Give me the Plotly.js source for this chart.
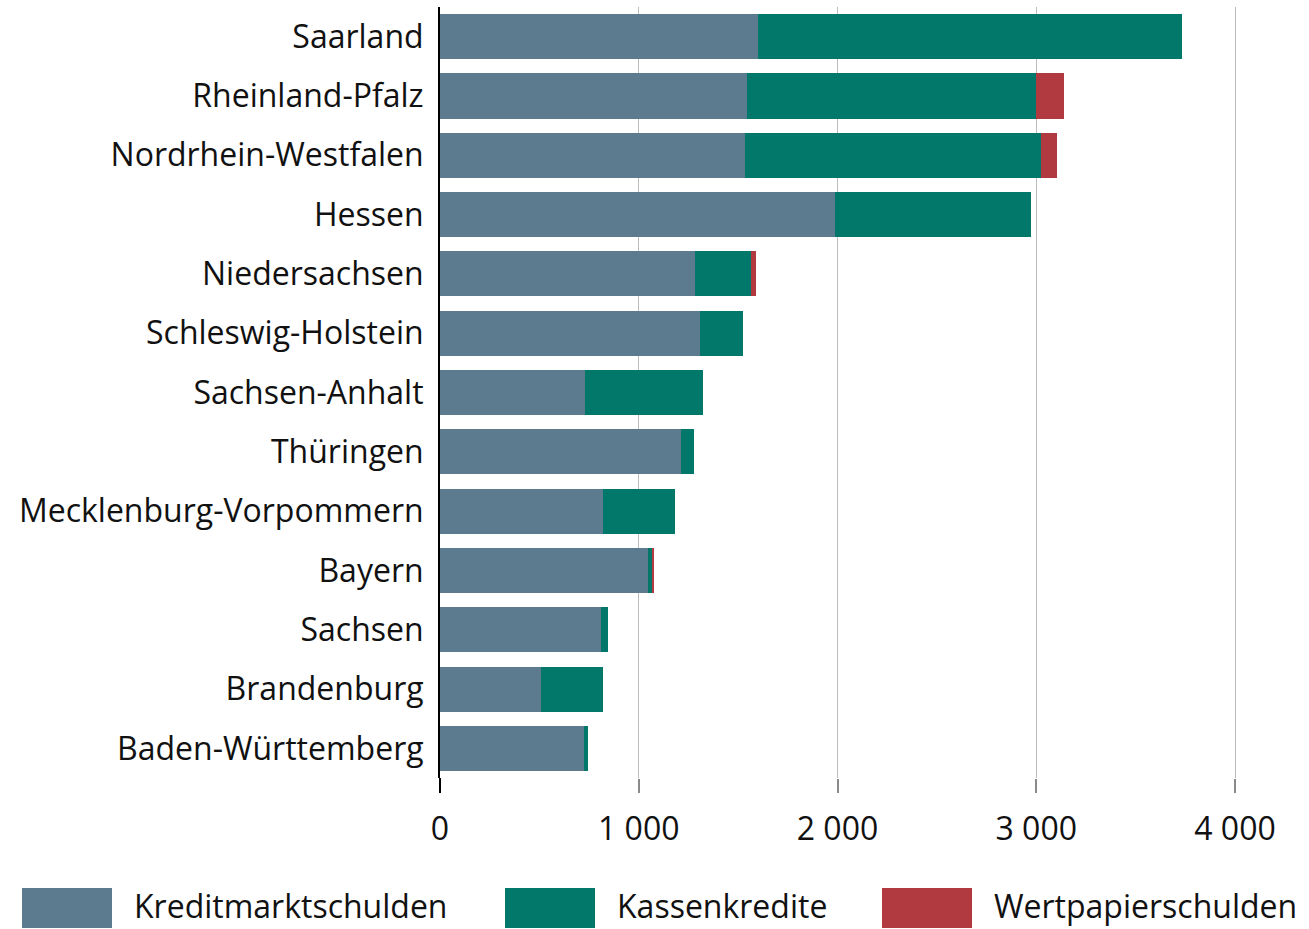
<!DOCTYPE html>
<html>
<head>
<meta charset="utf-8">
<script src="https://cdn.plot.ly/plotly-3.0.1.min.js"></script>
<style>html,body{margin:0;padding:0;background:#fff;}#chart{width:1309px;height:929px;}</style>
</head>
<body>
<div id="chart"></div>
<script>
const categories = ["Saarland","Rheinland-Pfalz","Nordrhein-Westfalen","Hessen","Niedersachsen","Schleswig-Holstein","Sachsen-Anhalt","Thüringen","Mecklenburg-Vorpommern","Bayern","Sachsen","Brandenburg","Baden-Württemberg"];
const kreditmarktschulden = [1600,1545,1535,1988,1283,1308,730,1213,820,1047,810,508,725];
const kassenkredite = [2135,1455,1490,985,282,217,594,65,363,18,35,312,20];
const wertpapierschulden = [0,140,80,0,25,0,0,0,0,12,0,0,0];
const seriesNames = ["Kreditmarktschulden","Kassenkredite","Wertpapierschulden"];
const seriesColors = ["#5d7b8f","#02786a","#b03a40"];
const xTicks = [0,1000,2000,3000,4000];

const W = 1309, H = 929;
const M = {l:440, r:9, t:7, b:151};
const pw = W - M.l - M.r, ph = H - M.t - M.b;
const px2x = p => (p - M.l) / pw;
const px2y = p => (H - M.b - p) / ph;

const font = "'Open Sans', 'Noto Sans', sans-serif";
const FS = 32;
const vals = [kreditmarktschulden, kassenkredite, wertpapierschulden];
const traces = vals.map((v,i) => ({
  type:'bar', orientation:'h', y:categories, x:v, name:seriesNames[i],
  marker:{color:seriesColors[i], line:{width:0}}, hoverinfo:'x+name'
}));

const shapes = [], annotations = [];
const legendPos = [[22,133],[505,616],[882,993]];
seriesNames.forEach((n,i) => {
  const [rx, tx] = legendPos[i];
  shapes.push({type:'rect', xref:'paper', yref:'paper', x0:px2x(rx), x1:px2x(rx+90), y0:px2y(888), y1:px2y(928), fillcolor:seriesColors[i], line:{width:0}});
  annotations.push({xref:'paper', yref:'paper', x:px2x(tx), y:px2y(928), xanchor:'left', yanchor:'bottom', borderpad:0, text:n, showarrow:false, font:{family:font, size:FS, color:'#111'}});
});
// y axis line extension below plot area (as in reference)
shapes.push({type:'line', xref:'paper', yref:'paper', x0:0, x1:0, y0:0, y1:px2y(793), line:{color:'#000', width:2}});

const layout = {
  width:W, height:H, margin:M, barmode:'stack', bargap:0.24, showlegend:false,
  paper_bgcolor:'#fff', plot_bgcolor:'#fff', separators:', ',
  font:{family:font, size:FS, color:'#111'},
  xaxis:{range:[0, 4000*pw/(1235-M.l)], tickvals:xTicks, tickformat:',d', showgrid:true, gridcolor:'#bdbdbd', gridwidth:1,
    zeroline:false, ticks:'outside', ticklen:14, tickcolor:'#8a8a8a', tickwidth:2, showline:false,
    tickfont:{family:font, size:FS, color:'#111'}, ticklabelstandoff:9},
  yaxis:{autorange:'reversed', showline:true, linecolor:'#000', linewidth:2, ticks:'', showgrid:false, zeroline:false,
    ticklabelstandoff:8, tickfont:{family:font, size:FS, color:'#111'}},
  shapes:shapes, annotations:annotations
};
Plotly.newPlot('chart', traces, layout, {displayModeBar:false, staticPlot:true});
</script>
</body>
</html>
